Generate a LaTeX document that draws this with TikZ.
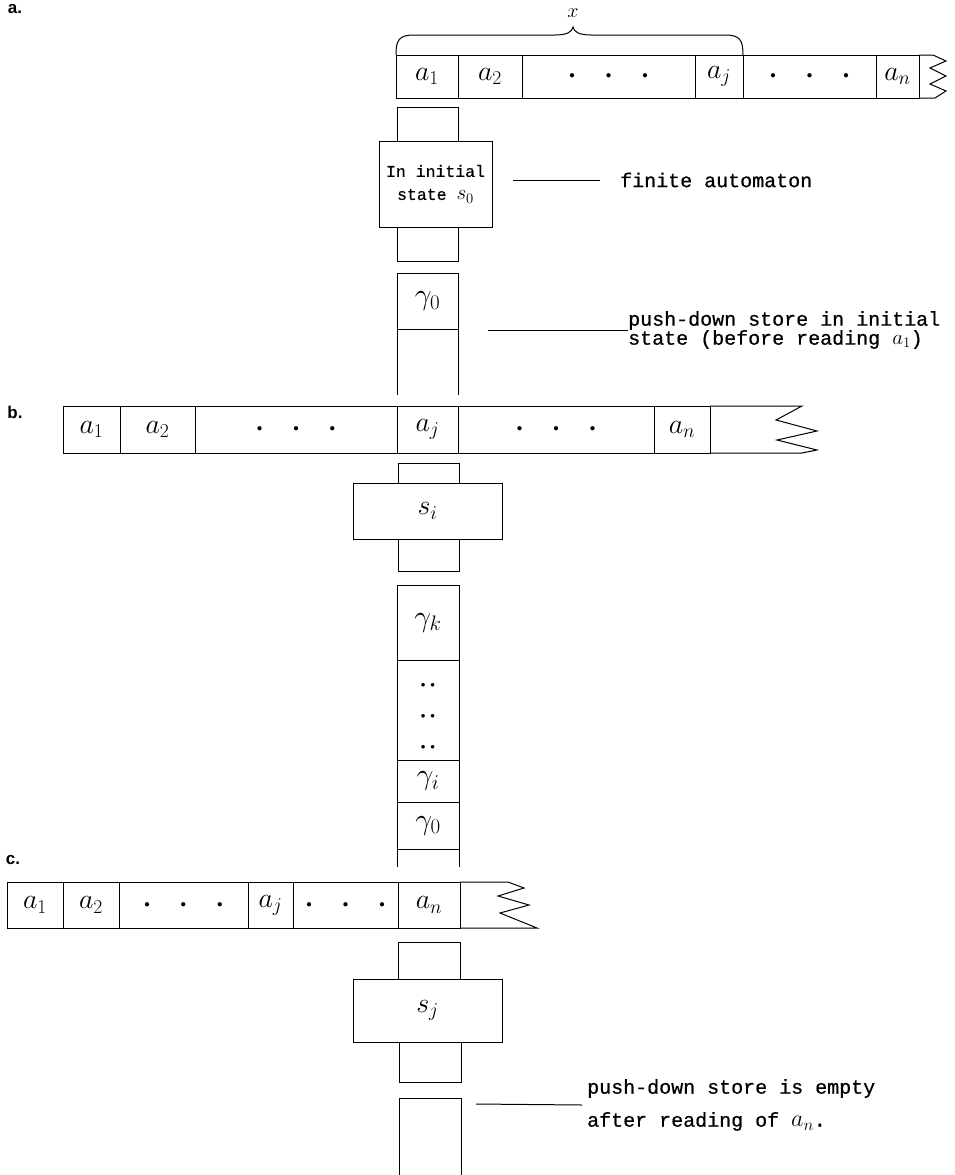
\RequirePackage{fix-cm}
\documentclass[tikz,border=0pt]{standalone}
\usepackage{fontspec}
\newfontfamily\twf{Liberation Mono}[FakeBold=0.6]
\newfontfamily\secf{Liberation Sans}
\newcommand{\myLabelFont}{\twf\fontsize{20}{19}\selectfont}
\newcommand{\myBoxFont}{\twf\fontsize{16.5}{23}\selectfont}
\newcommand{\myCellM}{\fontsize{28}{30}\selectfont}
\newcommand{\myGamM}{\fontsize{30}{32}\selectfont}
\newcommand{\myStateM}{\fontsize{28}{30}\selectfont}
\newcommand{\myDotF}{\fontsize{11}{11}\selectfont}
\newcommand{\myTDots}{{\myDotF$\bullet$\hspace{31pt}$\bullet$\hspace{31pt}$\bullet$}}
\newcommand{\myRBox}[7][]{\node[cellbox,minimum width={(#5)-(#3)},minimum height={(#6)-(#4)},#1] (#2) at ({((#3)+(#5))/2},{((#4)+(#6))/2}) {#7};}
\tikzset{
  cellbox/.style={draw, line width=1pt, inner sep=0pt, outer sep=0pt},
  lnw/.style={line width=1pt},
  lbl/.style={font=\myLabelFont, inner sep=0pt, anchor=west, align=left},
  sect/.style={font=\secf\bfseries\fontsize{17}{17}\selectfont, inner sep=0pt},
}
\begin{document}
\begin{tikzpicture}[x=1pt,y=-1pt]
\useasboundingbox (0,0) rectangle (955,1175);
% ---------------- a ----------------
\node[sect] (la) at (15,9) {a.};
\myRBox[font=\myCellM]{ta1}{396}{55}{458}{98}{$a_1$}
\myRBox[font=\myCellM]{ta2}{458}{55}{522}{98}{$a_2$}
\myRBox{tad1}{522}{55}{695}{98}{\myTDots}
\myRBox[font=\myCellM]{taj}{695}{55}{743}{98}{$a_j$}
\myRBox{tad2}{743}{55}{876}{98}{\myTDots}
\myRBox[font=\myCellM]{tan}{876}{55}{919}{98}{$a_n$}
\draw[lnw] (tan.north east) -- (933,55) -- (946,61) -- (930,68) -- (946,76) -- (930,84) -- (946,91) -- (935,98) -- (tan.south east);
% brace
\coordinate (brl) at (ta1.north west);
\coordinate (brr) at (taj.north east);
\draw[lnw] (brl) .. controls (396,40) and (399,35) .. (414,35) -- (555,35) .. controls (567,35) and (572,32) .. (573,27) .. controls (574,32) and (579,35) .. (591,35) -- (725,35) .. controls (740,35) and (743,40) .. (brr);
\node (xl) at (573,13) {\fontsize{20}{20}\selectfont$x$};
\myRBox{as1}{397}{107}{458}{141}{}
\myRBox[font=\myBoxFont,align=center]{aaut}{379}{141}{492}{227}{In initial\\state {\fontsize{21}{23}\selectfont$s_0$}}
\myRBox{as2}{397}{227}{458}{261}{}
\myRBox[font=\myGamM]{ag0}{397}{273}{458}{329}{$\gamma_0$}
\coordinate (ae1) at (397,395);
\coordinate (ae2) at (458,395);
\draw[lnw] (ag0.south west) -- (ae1);
\draw[lnw] (ag0.south east) -- (ae2);
\node[lbl] (fat) at (620,180) {finite automaton};
\coordinate (fa1) at (513,180);
\draw[lnw] (fa1) -- ([xshift=-20pt]fat.west);
\node[lbl] (pdt) at (628,330) {push-down store in initial\\state (before reading {\fontsize{21}{19}\selectfont$a_1$})};
\coordinate (pd1) at (488,330);
\draw[lnw] (pd1) -- (pdt.west);
% ---------------- b ----------------
\node[sect] (lb) at (15,412) {b.};
\myRBox[font=\myCellM]{tb1}{63}{406}{120}{453}{$a_1$}
\myRBox[font=\myCellM]{tb2}{120}{406}{195}{453}{$a_2$}
\myRBox{tbd1}{195}{406}{397}{453}{\myTDots}
\myRBox[font=\myCellM]{tbj}{397}{406}{458}{453}{$a_j$}
\myRBox{tbd2}{458}{406}{654}{453}{\myTDots}
\myRBox[font=\myCellM]{tbn}{654}{406}{710}{453}{$a_n$}
\draw[lnw] (tbn.north east) -- (802,406) -- (776,420) -- (817,431) -- (777,440) -- (817,450) -- (802,453) -- (tbn.south east);
\myRBox{bs1}{398}{463}{459}{483}{}
\myRBox[font=\myStateM]{baut}{353}{483}{502}{539}{$s_i$}
\myRBox{bs2}{398}{539}{459}{571}{}
\myRBox[font=\myGamM]{bgk}{397}{585}{459}{660}{$\gamma_k$}
\myRBox{bdc}{397}{660}{459}{760}{}
\node[font=\fontsize{9}{31}\selectfont, align=center, inner sep=0pt] (bdots) at (428,716) {$\bullet$\hspace{5pt}$\bullet$\\$\bullet$\hspace{5pt}$\bullet$\\$\bullet$\hspace{5pt}$\bullet$};
\myRBox[font=\myGamM]{bgi}{397}{760}{459}{802}{$\gamma_i$}
\myRBox[font=\myGamM]{bg0}{397}{802}{459}{849}{$\gamma_0$}
\coordinate (be1) at (397,867);
\coordinate (be2) at (459,867);
\draw[lnw] (bg0.south west) -- (be1);
\draw[lnw] (bg0.south east) -- (be2);
% ---------------- c ----------------
\node[sect] (lc) at (13,860) {c.};
\myRBox[font=\myCellM]{tc1}{7}{882}{63}{928}{$a_1$}
\myRBox[font=\myCellM]{tc2}{63}{882}{119}{928}{$a_2$}
\myRBox{tcd1}{119}{882}{248}{928}{\myTDots}
\myRBox[font=\myCellM]{tcj}{248}{882}{293}{928}{$a_j$}
\myRBox{tcd2}{293}{882}{398}{928}{\myTDots}
\myRBox[font=\myCellM]{tcn}{398}{882}{460}{928}{$a_n$}
\draw[lnw] (tcn.north east) -- (508,882) -- (524,888) -- (498,896) -- (529,905) -- (500,913) -- (537,928) -- (tcn.south east);
\myRBox{cs1}{398}{942}{460}{979}{}
\myRBox[font=\myStateM]{caut}{353}{979}{502}{1042}{$s_j$}
\myRBox{cs2}{399}{1042}{461}{1082}{}
\coordinate (ce1) at (399,1180);
\coordinate (ce2) at (399,1098);
\coordinate (ce3) at (461,1098);
\coordinate (ce4) at (461,1180);
\draw[lnw] (ce1) -- (ce2) -- (ce3) -- (ce4);
\node[lbl, font=\twf\fontsize{20}{33}\selectfont] (pet) at (587,1105) {push-down store is empty\\after reading of {\fontsize{24}{33}\selectfont$a_n$}.};
\coordinate (pe1) at (476,1104);
\draw[lnw] (pe1) -- ([xshift=-5pt]pet.west);
\end{tikzpicture}
\end{document}
